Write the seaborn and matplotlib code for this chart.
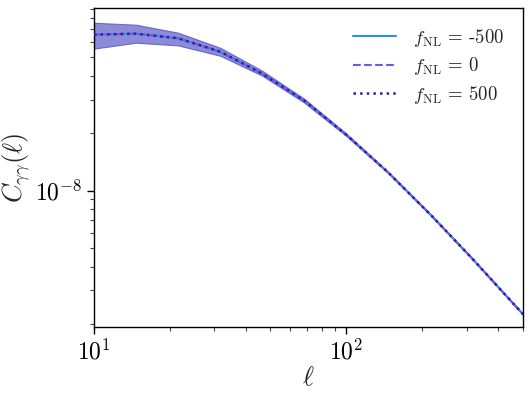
import numpy as np
import pandas as pd
import matplotlib
matplotlib.use("Agg")
import matplotlib.pyplot as plt
import matplotlib.ticker as mticker
import seaborn as sns

# ---- data ----
ell = [10.0, 14.68, 21.54, 31.62, 46.42, 68.13, 100.0, 146.8, 215.4, 316.2, 464.2, 681.3]
cl_fnl_m500 = [6.57e-8, 6.65e-8, 6.29e-8, 5.35e-8, 4.10e-8, 2.96e-8, 1.96e-8, 1.24e-8, 7.48e-9, 4.38e-9, 2.51e-9, 1.44e-9]
cl_fnl_0 = [6.57e-8, 6.65e-8, 6.29e-8, 5.35e-8, 4.10e-8, 2.96e-8, 1.96e-8, 1.24e-8, 7.48e-9, 4.38e-9, 2.51e-9, 1.44e-9]
cl_fnl_p500 = [6.57e-8, 6.65e-8, 6.29e-8, 5.35e-8, 4.10e-8, 2.96e-8, 1.96e-8, 1.24e-8, 7.48e-9, 4.38e-9, 2.51e-9, 1.44e-9]
band_upper = [7.59e-8, 7.41e-8, 6.73e-8, 5.61e-8, 4.25e-8, 3.03e-8, 1.99e-8, 1.25e-8, 7.52e-9, 4.40e-9, 2.52e-9, 1.445e-9]
band_lower = [5.55e-8, 5.96e-8, 5.77e-8, 5.09e-8, 4.00e-8, 2.89e-8, 1.93e-8, 1.23e-8, 7.44e-9, 4.36e-9, 2.50e-9, 1.435e-9]
labels = [r"$f_{\rm NL}$ = -500", r"$f_{\rm NL}$ = 0", r"$f_{\rm NL}$ = 500"]

sns.set_style("ticks")
plt.rcParams["mathtext.fontset"] = "cm"
plt.rcParams["font.family"] = ["cmr10", "DejaVu Serif"]
plt.rcParams["axes.unicode_minus"] = False
plt.rcParams["axes.linewidth"] = 1.0
plt.rcParams["axes.edgecolor"] = "black"

fig, ax = plt.subplots(figsize=(5.32, 3.97), dpi=100)
fig.subplots_adjust(left=0.1767, right=0.983, top=0.980, bottom=0.1763)

df = pd.DataFrame({"ell": ell, "m500": cl_fnl_m500, "z": cl_fnl_0, "p500": cl_fnl_p500})

ax.fill_between(ell, band_lower, band_upper, facecolor="#5a5ac8", alpha=0.7,
                edgecolor="#4a4ab8", linewidth=0.8, zorder=1)
sns.lineplot(data=df, x="ell", y="m500", ax=ax, color="#2a8cf5", lw=1.5, ls="-",
             label=labels[0], zorder=3)
sns.lineplot(data=df, x="ell", y="z", ax=ax, color="#7058e0", lw=1.5, ls=(0, (3.7, 1.6)),
             label=labels[1], zorder=4)
sns.lineplot(data=df, x="ell", y="p500", ax=ax, color="#3a1a9a", lw=1.8, ls=(0, (1, 1.65)),
             label=labels[2], zorder=5)

ax.set_xscale("log")
ax.set_yscale("log")
ax.set_xlim(10, 500)
ax.set_ylim(1.93e-9, 9.07e-8)


def logfmt(v, pos):
    e = int(np.round(np.log10(v)))
    if abs(np.log10(v) - e) > 1e-6:
        return ""
    return r"$10^{%d}$" % e


ax.xaxis.set_major_formatter(mticker.FuncFormatter(logfmt))
ax.yaxis.set_major_formatter(mticker.FuncFormatter(logfmt))
ax.xaxis.set_minor_formatter(mticker.NullFormatter())
ax.yaxis.set_minor_formatter(mticker.NullFormatter())
ax.tick_params(which="major", direction="out", length=5, width=1, labelsize=17, colors="black")
ax.tick_params(which="minor", direction="out", length=3, width=0.8, colors="#444444")

ax.set_xlabel(r"$\ell$", fontsize=19, labelpad=2)
ax.set_ylabel(r"$C_{\gamma\gamma}(\ell)$", fontsize=19, labelpad=2)

leg = ax.legend(loc="upper right", frameon=False, fontsize=13.5, handlelength=2.3,
                handletextpad=0.9, labelspacing=0.35, borderaxespad=0.6)

for s in ax.spines.values():
    s.set_visible(True)

fig.savefig("out.png", dpi=100)
